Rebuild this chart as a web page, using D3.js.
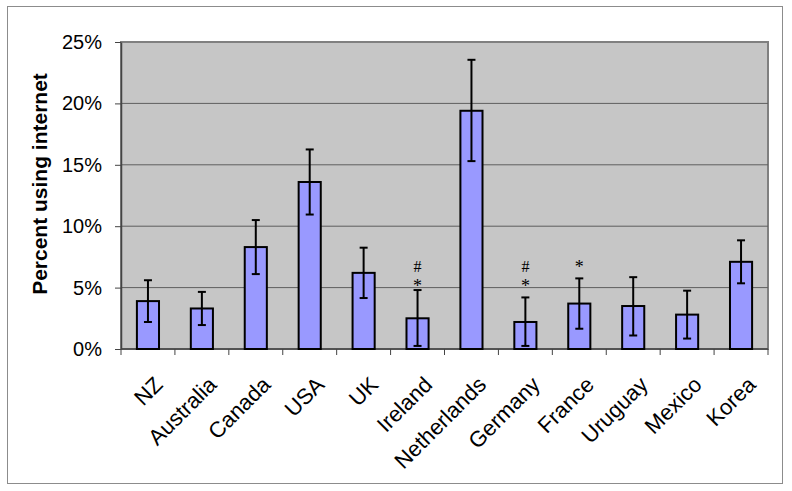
<!DOCTYPE html>
<html>
<head>
<meta charset="utf-8">
<script src="https://cdn.jsdelivr.net/npm/d3@7"></script>
<style>
  html, body { margin: 0; padding: 0; background: #fff; }
  svg { display: block; }
</style>
</head>
<body>
<svg id="chart" width="792" height="491"></svg>
<script>
const categories = ["NZ","Australia","Canada","USA","UK","Ireland","Netherlands","Germany","France","Uruguay","Mexico","Korea"];
const values     = [3.9, 3.3, 8.3, 13.6, 6.2, 2.5, 19.4, 2.2, 3.7, 3.5, 2.8, 7.1];
const errHigh    = [5.6, 4.65, 10.5, 16.25, 8.25, 4.8, 23.55, 4.2, 5.75, 5.85, 4.75, 8.85];
const errLow     = [2.2, 1.95, 6.1, 10.95, 4.15, 0.25, 15.3, 0.25, 1.65, 1.1, 0.85, 5.35];
// significance annotations: category, symbol, level (in %) of the symbol's centre
const markCats   = ["Ireland", "Ireland", "Germany", "Germany", "France"];
const markSyms   = ["#", "*", "#", "*", "*"];
const markLevels = [6.72, 5.29, 6.72, 5.29, 6.9];
const yTicks     = [0, 5, 10, 15, 20, 25];
const yLabel     = "Percent using internet";

(function () {
const svg = d3.select("#chart");
const pL = 121, pR = 768, pT = 42, pB = 349;

// outer border
svg.append("rect").attr("x", 7.5).attr("y", 6.5).attr("width", 775).attr("height", 477)
  .attr("fill", "#fff").attr("stroke", "#8c8c8c").attr("stroke-width", 1);

const x = d3.scaleBand().domain(categories).range([pL, pR]).padding(0);
const y = d3.scaleLinear().domain([0, 25]).range([pB, pT]);

// plot area
svg.append("rect").attr("x", pL).attr("y", pT).attr("width", pR - pL).attr("height", pB - pT)
  .attr("fill", "#c6c6c6").attr("stroke", "#808080").attr("stroke-width", 2);

// gridlines
svg.append("g").selectAll("line").data(yTicks.filter(d => d > 0 && d < 25)).join("line")
  .attr("x1", pL).attr("x2", pR).attr("y1", d => y(d)).attr("y2", d => y(d))
  .attr("stroke", "#5e5e5e").attr("stroke-width", 1);

// y axis
const yAxis = d3.axisLeft(y).tickValues(yTicks).tickFormat(d => d + "%").tickSizeInner(6).tickSizeOuter(0).tickPadding(13);
const gy = svg.append("g").attr("transform", `translate(${pL},0)`).call(yAxis);
gy.select(".domain").attr("stroke", "#444").attr("stroke-width", 1.5);
gy.selectAll(".tick line").attr("stroke", "#444");
gy.selectAll("text").attr("font-family", "Liberation Sans, Arial, sans-serif").attr("font-size", 20).attr("fill", "#000");

// x axis baseline and ticks at category boundaries
svg.append("line").attr("x1", pL).attr("x2", pR).attr("y1", pB).attr("y2", pB)
  .attr("stroke", "#444").attr("stroke-width", 1.5);
const bounds = categories.map(c => x(c)).concat([pR]);
svg.append("g").selectAll("line").data(bounds).join("line")
  .attr("x1", d => d).attr("x2", d => d).attr("y1", pB).attr("y2", pB + 6)
  .attr("stroke", "#444").attr("stroke-width", 1);

// bars
const bw = x.bandwidth() * 0.41;
svg.append("g").selectAll("rect").data(categories).join("rect")
  .attr("x", c => x(c) + x.bandwidth() / 2 - bw / 2)
  .attr("y", (c, i) => y(values[i]))
  .attr("width", bw)
  .attr("height", (c, i) => y(0) - y(values[i]))
  .attr("fill", "#9999ff").attr("stroke", "#000").attr("stroke-width", 2);

// error bars
const eb = svg.append("g").attr("stroke", "#000").attr("stroke-width", 2);
categories.forEach((c, i) => {
  const cx = x(c) + x.bandwidth() / 2;
  eb.append("line").attr("x1", cx).attr("x2", cx).attr("y1", y(errHigh[i])).attr("y2", y(errLow[i]));
  eb.append("line").attr("x1", cx - 4).attr("x2", cx + 4).attr("y1", y(errHigh[i])).attr("y2", y(errHigh[i]));
  eb.append("line").attr("x1", cx - 4).attr("x2", cx + 4).attr("y1", y(errLow[i])).attr("y2", y(errLow[i]));
});

// significance marks
markCats.forEach((c, i) => {
  const cx = x(c) + x.bandwidth() / 2;
  const isStar = markSyms[i] === "*";
  const fs = isStar ? 18 : 16;
  const off = isStar ? 0.47 * fs : 0.34 * fs; // baseline offset from glyph centre
  svg.append("text").attr("x", cx).attr("y", y(markLevels[i]) + off)
    .attr("text-anchor", "middle")
    .attr("font-family", "Liberation Serif, Times New Roman, serif")
    .attr("font-size", fs).attr("fill", "#000")
    .text(markSyms[i]);
});

// category labels
svg.append("g").selectAll("text").data(categories).join("text")
  .attr("transform", c => `translate(${x(c) + x.bandwidth() / 2 + 16},${pB + 37}) rotate(-45)`)
  .attr("text-anchor", "end")
  .attr("font-family", "Liberation Sans, Arial, sans-serif")
  .attr("font-size", 22).attr("fill", "#000")
  .text(c => c);

// y label
svg.append("text")
  .attr("transform", `translate(47,184) rotate(-90)`)
  .attr("text-anchor", "middle")
  .attr("font-family", "Liberation Sans, Arial, sans-serif")
  .attr("font-weight", "bold").attr("font-size", 21).attr("fill", "#000")
  .text(yLabel);
})();
</script>
</body>
</html>
